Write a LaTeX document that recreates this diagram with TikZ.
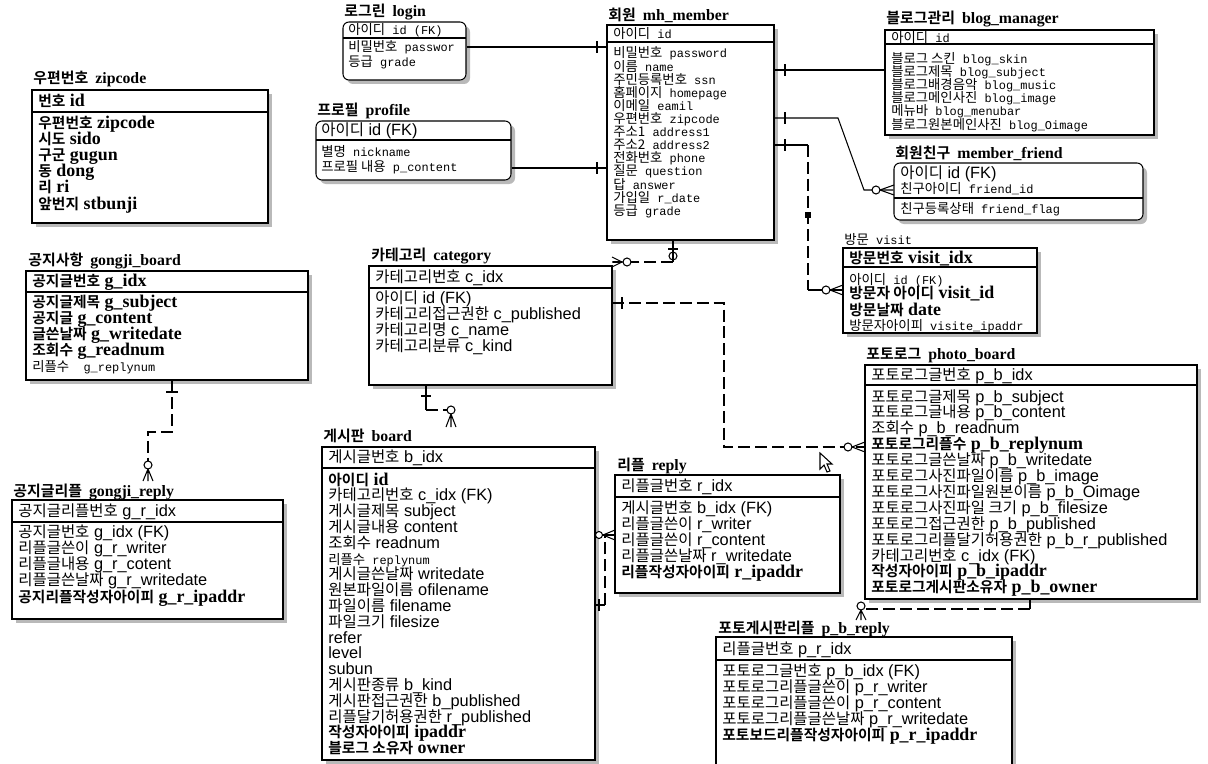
\documentclass[tikz,border=0pt]{standalone}
\usepackage{fontspec}
\setmainfont{Liberation Serif}
\setsansfont{Liberation Sans}
\setmonofont{Liberation Mono}
\newfontfamily\kr{Noto Sans CJK KR}[BoldFont={Noto Sans CJK KR Bold}]
\usetikzlibrary{positioning, fit, shadows}

% one table row: Korean part, then the column name
\newcommand{\rowm}[2]{{\fontsize{7.6}{9}\selectfont\kr #1}{\fontsize{6.8}{9}\selectfont\ttfamily\ #2}}
\newcommand{\rows}[2]{{\fontsize{8.8}{10}\selectfont\kr #1}{\fontsize{9.3}{11}\selectfont\sffamily\ #2}}
\newcommand{\rowb}[2]{{\fontsize{8.4}{10}\selectfont\kr\bfseries #1}{\fontsize{10.2}{11}\selectfont\rmfamily\bfseries\ #2}}
\newcommand{\rowx}[2]{{\fontsize{9.3}{11}\selectfont\sffamily #2}}
\newcommand{\ttl}[2]{{\fontsize{8.5}{10}\selectfont\kr\bfseries #1}\hspace{4pt}{\fontsize{9}{11}\selectfont\rmfamily\bfseries #2}}

\begin{document}
\begin{tikzpicture}[
    x=0.02cm, y=-0.02cm,
    ebox/.style={draw, fill=white, line width=0.6pt, inner sep=0pt,
                 drop shadow={shadow xshift=0.08cm, shadow yshift=-0.08cm,
                              fill=gray!55, opacity=1}},
    rbox/.style={ebox, rounded corners=0.12cm},
    ttlnode/.style={anchor=base west, inner sep=0pt},
    fld/.style={anchor=base west, inner sep=0pt, yshift=-0.1cm},
    rel/.style={line width=0.6pt},
    drel/.style={rel, dash pattern=on 6.8pt off 2.8pt}
  ]
  \useasboundingbox (0,0) rectangle (1208,764);
  \fill[white] (0,0) rectangle (1208,764);

  % zipcode
  \node[ttlnode] (zipT) at (33,83) {\ttl{우편번호}{zipcode}};
  \node[ebox, fit={(32,90) (268,223)}] (zip) {};
  \draw[rel] (32,112) -- (268,112);
  \node[fld] (zipK) at (38,101) {\rowb{번호}{id}};
  \foreach \f/\k/\l [count=\i from 0] in {b/우편번호/zipcode, b/시도/sido,
      b/구군/gugun, b/동/dong, b/리/ri, b/앞번지/stbunji} {
    \node[fld] (zip\i) at (38, 123+16.2*\i) {\csname row\f\endcsname{\k}{\l}};
  }

  % login
  \node[ttlnode] (loginT) at (344,16) {\ttl{로그린}{login}};
  \node[rbox, fit={(343,22) (466,80)}] (login) {};
  \draw[rel] (343,38) -- (466,38);
  \node[fld] (loginK) at (348,30) {\rowm{아이디}{id (FK)}};
  \foreach \f/\k/\l [count=\i from 0] in {m/비밀번호/passwor, m/등급/grade} {
    \node[fld] (login\i) at (348, 47+14*\i) {\csname row\f\endcsname{\k}{\l}};
  }

  % profile
  \node[ttlnode] (profT) at (317,115) {\ttl{프로필}{profile}};
  \node[rbox, fit={(316,121) (511,180)}] (prof) {};
  \draw[rel] (316,140) -- (511,140);
  \node[fld] (profK) at (321,131) {\rows{아이디}{id (FK)}};
  \foreach \f/\k/\l [count=\i from 0] in {m/별명/nickname, m/프로필 내용/p\_content} {
    \node[fld] (prof\i) at (321, 152+14*\i) {\csname row\f\endcsname{\k}{\l}};
  }

  % mh_member
  \node[ttlnode] (memT) at (608,20) {\ttl{회원}{mh\_member}};
  \node[ebox, fit={(607,25) (774,240)}] (mem) {};
  \draw[rel] (607,42) -- (774,42);
  \node[fld] (memK) at (613,34) {\rowm{아이디}{id}};
  \foreach \f/\k/\l [count=\i from 0] in {m/비밀번호/password, m/이름/name,
      m/주민등록번호/ssn, m/홈페이지/homepage, m/이메일/eamil, m/우편번호/zipcode,
      m/주소1/address1, m/주소2/address2, m/전화번호/phone, m/질문/question,
      m/답/answer, m/가입일/r\_date, m/등급/grade} {
    \node[fld] (mem\i) at (613, 53+13.1*\i) {\csname row\f\endcsname{\k}{\l}};
  }

  % blog_manager
  \node[ttlnode] (blogT) at (886,24) {\ttl{블로그관리}{blog\_manager}};
  \node[ebox, fit={(885,30) (1154,135)}] (blog) {};
  \draw[rel] (885,44) -- (1154,44);
  \node[fld] (blogK) at (891,37) {\rowm{아이디}{id}};
  \foreach \f/\k/\l [count=\i from 0] in {m/블로그 스킨/blog\_skin,
      m/블로그제목/blog\_subject, m/블로그배경음악/blog\_music,
      m/블로그메인사진/blog\_image, m/메뉴바/blog\_menubar,
      m/블로그원본메인사진/blog\_Oimage} {
    \node[fld] (blog\i) at (891, 58+13.2*\i) {\csname row\f\endcsname{\k}{\l}};
  }

  % member_friend
  \node[ttlnode] (frT) at (895,158) {\ttl{회원친구}{member\_friend}};
  \node[rbox, fit={(894,163) (1143,220)}] (fr) {};
  \draw[rel] (894,198) -- (1143,198);
  \node[fld] (frK) at (900,173) {\rows{아이디}{id (FK)}};
  \node[fld] (frK2) at (900,188) {\rowm{친구아이디}{friend\_id}};
  \node[fld] (fr0) at (900,208) {\rowm{친구등록상태}{friend\_flag}};

  % gongji_board
  \node[ttlnode] (gbT) at (28,265) {\ttl{공지사항}{gongji\_board}};
  \node[ebox, fit={(26,271) (308,380)}] (gb) {};
  \draw[rel] (26,292) -- (308,292);
  \node[fld] (gbK) at (32,281) {\rowb{공지글번호}{g\_idx}};
  \foreach \f/\k/\l [count=\i from 0] in {b/공지글제목/g\_subject,
      b/공지글/g\_content, b/글쓴날짜/g\_writedate, b/조회수/g\_readnum,
      m/리플수/ g\_replynum} {
    \node[fld] (gb\i) at (32, 302+16.2*\i) {\csname row\f\endcsname{\k}{\l}};
  }

  % gongji_reply
  \node[ttlnode] (grT) at (13,496) {\ttl{공지글리플}{gongji\_reply}};
  \node[ebox, fit={(12,500) (283,619)}] (gr) {};
  \draw[rel] (12,522) -- (283,522);
  \node[fld] (grK) at (18,511) {\rows{공지글리플번호}{g\_r\_idx}};
  \foreach \f/\k/\l [count=\i from 0] in {s/공지글번호/g\_idx (FK),
      s/리플글쓴이/g\_r\_writer, s/리플글내용/g\_r\_cotent,
      s/리플글쓴날짜/g\_r\_writedate, b/공지리플작성자아이피/g\_r\_ipaddr} {
    \node[fld] (gr\i) at (18, 532+16.3*\i) {\csname row\f\endcsname{\k}{\l}};
  }

  % category
  \node[ttlnode] (catT) at (371,260) {\ttl{카테고리}{category}};
  \node[ebox, fit={(369,266) (612,385)}] (cat) {};
  \draw[rel] (369,288) -- (612,288);
  \node[fld] (catK) at (375,277) {\rows{카테고리번호}{c\_idx}};
  \foreach \f/\k/\l [count=\i from 0] in {s/아이디/id (FK),
      s/카테고리접근권한/c\_published, s/카테고리명/c\_name, s/카테고리분류/c\_kind} {
    \node[fld] (cat\i) at (375, 298+16.3*\i) {\csname row\f\endcsname{\k}{\l}};
  }

  % visit
  \node[ttlnode] (visT) at (844,244) {\rowm{방문}{visit}};
  \node[ebox, fit={(843,248) (1037,333)}] (vis) {};
  \draw[rel] (843,267) -- (1037,267);
  \node[fld] (visK) at (849,258) {\rowb{방문번호}{visit\_idx}};
  \foreach \f/\k/\l/\y [count=\i from 0] in {m/아이디/id (FK)/279,
      b/방문자 아이디/visit\_id/293, b/방문날짜/date/310,
      m/방문자아이피/visite\_ipaddr/325} {
    \node[fld] (vis\i) at (849, \y) {\csname row\f\endcsname{\k}{\l}};
  }

  % photo_board
  \node[ttlnode] (pbT) at (866,359) {\ttl{포토로그}{photo\_board}};
  \node[ebox, fit={(865,365) (1197,599)}] (pb) {};
  \draw[rel] (865,385) -- (1197,385);
  \node[fld] (pbK) at (871,375) {\rows{포토로그글번호}{p\_b\_idx}};
  \foreach \f/\k/\l [count=\i from 0] in {s/포토로그글제목/p\_b\_subject,
      s/포토로그글내용/p\_b\_content, s/조회수/p\_b\_readnum,
      b/포토로그리플수/p\_b\_replynum, s/포토로그글쓴날짜/p\_b\_writedate,
      s/포토로그사진파일이름/p\_b\_image, s/포토로그사진파일원본이름/p\_b\_Oimage,
      s/포토로그사진파일 크기/p\_b\_filesize, s/포토로그접근권한/p\_b\_published,
      s/포토로그리플달기허용권한/p\_b\_r\_published, s/카테고리번호/c\_idx (FK),
      b/작성자아이피/p\_b\_ipaddr, b/포토로그게시판소유자/p\_b\_owner} {
    \node[fld] (pb\i) at (871, 397+15.9*\i) {\csname row\f\endcsname{\k}{\l}};
  }

  % board
  \node[ttlnode] (bdT) at (323,441) {\ttl{게시판}{board}};
  \node[ebox, fit={(322,447) (595,760)}] (bd) {};
  \draw[rel] (322,468) -- (595,468);
  \node[fld] (bdK) at (328,457) {\rows{게시글번호}{b\_idx}};
  \foreach \f/\k/\l [count=\i from 0] in {b/아이디/id, s/카테고리번호/c\_idx (FK),
      s/게시글제목/subject, s/게시글내용/content, s/조회수/readnum,
      m/리플수/replynum, s/게시글쓴날짜/writedate, s/원본파일이름/ofilename,
      s/파일이름/filename, s/파일크기/filesize, x/-/refer, x/-/level, x/-/subun,
      s/게시판종류/b\_kind, s/게시판접근권한/b\_published,
      s/리플달기허용권한/r\_published, b/작성자아이피/ipaddr,
      b/블로그 소유자/owner} {
    \node[fld] (bd\i) at (328, 480+15.8*\i) {\csname row\f\endcsname{\k}{\l}};
  }

  % reply
  \node[ttlnode] (rpT) at (617,470) {\ttl{리플}{reply}};
  \node[ebox, fit={(615,475) (840,593)}] (rp) {};
  \draw[rel] (615,497) -- (840,497);
  \node[fld] (rpK) at (621,486) {\rows{리플글번호}{r\_idx}};
  \foreach \f/\k/\l [count=\i from 0] in {s/게시글번호/b\_idx (FK),
      s/리플글쓴이/r\_writer, s/리플글쓴이/r\_content, s/리플글쓴날짜/r\_writedate,
      b/리플작성자아이피/r\_ipaddr} {
    \node[fld] (rp\i) at (621, 508+16*\i) {\csname row\f\endcsname{\k}{\l}};
  }

  % p_b_reply
  \node[ttlnode] (prT) at (718,633) {\ttl{포토게시판리플}{p\_b\_reply}};
  \node[ebox, fit={(716,637) (1012,800)}] (pr) {};
  \draw[rel] (716,660) -- (1012,660);
  \node[fld] (prK) at (722,649) {\rows{리플글번호}{p\_r\_idx}};
  \foreach \f/\k/\l [count=\i from 0] in {s/포토로그글번호/p\_b\_idx (FK),
      s/포토로그리플글쓴이/p\_r\_writer, s/포토로그리플글쓴이/p\_r\_content,
      s/포토로그리플글쓴날짜/p\_r\_writedate, b/포토보드리플작성자아이피/p\_r\_ipaddr} {
    \node[fld] (pr\i) at (722, 671+16*\i) {\csname row\f\endcsname{\k}{\l}};
  }

  % login, profile -> mh_member
  \draw[rel] (login.east |- 0,47) -- (mem.west |- 0,47);
  \draw[rel] (597,41) -- (597,53);
  \draw[rel] (prof.east |- 0,168) -- (mem.west |- 0,168);
  \draw[rel] (597,162) -- (597,174);

  % mh_member -> blog_manager
  \draw[rel] (mem.east |- 0,70) -- (blog.west |- 0,70);
  \draw[rel] (785,64) -- (785,76);

  % mh_member -> member_friend
  \coordinate (frBend) at (838,118);
  \draw[rel] (mem.east |- 0,118) -- (frBend) -- (864,190) -- (fr.west |- 0,190);
  \draw[rel] (785,112) -- (785,124);
  \draw[rel, fill=white] (876,190) circle (4);
  \draw[rel] (880,190) -- (894,185) (880,190) -- (894,195);

  % mh_member -> visit
  \coordinate (visBendA) at (808,145);
  \coordinate (visBendB) at (808,290);
  \draw[rel] (mem.east |- 0,145) -- (visBendA);
  \draw[drel] (visBendA) -- (visBendB);
  \draw[rel] (visBendB) -- (vis.west |- 0,290);
  \fill (805,212) rectangle (811,218);
  \draw[rel] (785,139) -- (785,151);
  \draw[rel, fill=white] (826,290) circle (4);
  \draw[rel] (830,290) -- (843,285) (830,290) -- (843,295);

  % mh_member -> category
  \coordinate (catBend) at (673,262);
  \draw[rel] (mem.south -| 673,0) -- (catBend);
  \draw[drel] (catBend) -- (cat.east |- 0,262);
  \draw[rel] (668,249) -- (678,249);
  \draw[rel] (673,256) circle (4);
  \draw[rel, fill=white] (627,262) circle (4);
  \draw[rel] (622,262) -- (612,257) (622,262) -- (612,267) (612,262) -- (623,262);

  % category -> photo_board
  \coordinate (pbBendA) at (724,303);
  \coordinate (pbBendB) at (724,447);
  \draw[drel] (cat.east |- 0,303) -- (pbBendA) -- (pbBendB) -- (pb.west |- 0,447);
  \draw[rel] (622,297) -- (622,309);
  \draw[rel, fill=white] (848,447) circle (4);
  \draw[rel] (852,447) -- (865,442) (852,447) -- (865,452);

  % category -> board
  \coordinate (bdBend) at (426,410);
  \draw[rel] (cat.south -| 426,0) -- (bdBend);
  \draw[drel] (bdBend) -- (447,410);
  \draw[rel] (421,396) -- (431,396);
  \draw[rel] (451,410) circle (4);
  \draw[rel] (451,414) -- (451,427) (451,414) -- (446,427) (451,414) -- (456,427);

  % gongji_board -> gongji_reply
  \coordinate (grBendA) at (172,432);
  \coordinate (grBendB) at (148,432);
  \draw[drel] (gb.south -| 172,0) -- (grBendA) -- (grBendB) -- (148,461);
  \draw[rel] (166,392) -- (178,392);
  \draw[rel] (148,465) circle (4);
  \draw[rel] (148,469) -- (148,481) (148,469) -- (143,481) (148,469) -- (153,481);

  % board -> reply
  \coordinate (rpBendA) at (605,605);
  \coordinate (rpBendB) at (605,535);
  \draw[rel] (bd.east |- 0,605) -- (rpBendA);
  \draw[drel] (rpBendA) -- (rpBendB);
  \draw[rel] (bd.east |- 0,535) -- (rp.west |- 0,535);
  \draw[rel] (599,599) -- (599,611);
  \draw[rel, fill=white] (599,535) circle (3.5);
  \draw[rel] (603,535) -- (615,530) (603,535) -- (615,540);

  % photo_board -> p_b_reply
  \coordinate (prBend) at (1030,609);
  \draw[rel] (pb.south -| 1030,0) -- (prBend);
  \draw[drel] (prBend) -- (866,609);
  \draw[rel] (861,606) circle (4);
  \draw[rel] (861,610) -- (861,620) (861,610) -- (856,620) (861,610) -- (866,620);

  % mouse pointer
  \draw[rel, fill=white] (820,453) -- (820,469) -- (824,465) -- (827,472)
    -- (830,471) -- (827,464) -- (832,464) -- cycle;
\end{tikzpicture}
\end{document}
